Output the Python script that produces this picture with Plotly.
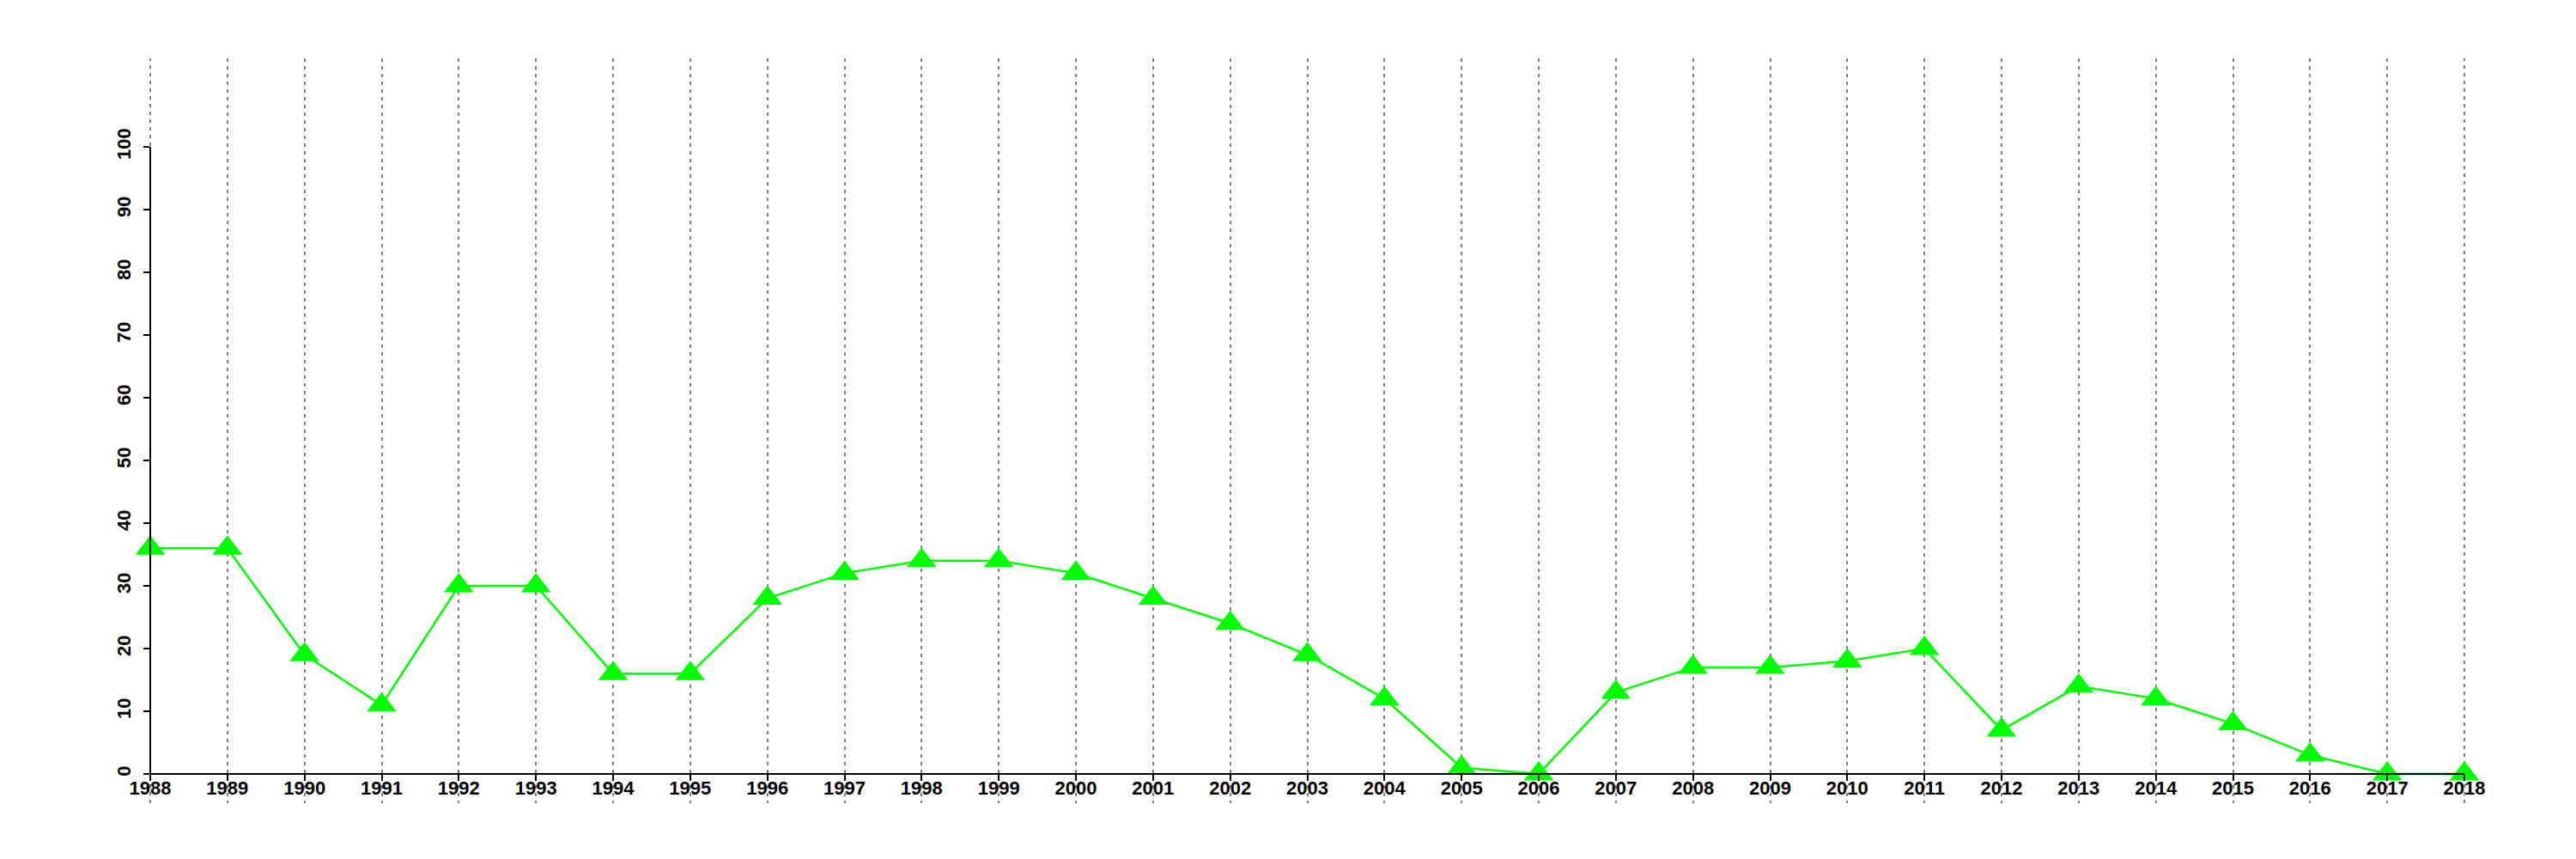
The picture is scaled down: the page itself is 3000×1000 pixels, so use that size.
import plotly.graph_objects as go

years = list(range(1988, 2019))
values = [36, 36, 19, 11, 30, 30, 16, 16, 28, 32, 34, 34, 32, 28, 24, 19, 12,
          1, 0, 13, 17, 17, 18, 20, 7, 14, 12, 8, 3, 0, 0]
y_ticks = list(range(0, 101, 10))
x_labels = [str(y) for y in years]

Y_MIN, Y_MAX = -4.66, 114.11
FONT = dict(family="Liberation Sans, Arial, sans-serif", size=22, color="black",
            weight="bold")
GRID = dict(color="#808080", width=2, dash="4px,5px")

fig = go.Figure()
fig.add_trace(go.Scatter(
    x=years, y=values, mode="lines+markers",
    line=dict(color="#00ff00", width=2.5),
    marker=dict(symbol="triangle-up", size=30, color="#00ff00", line=dict(width=0)),
    cliponaxis=False, showlegend=False, hoverinfo="skip",
))

# grid lines on the two range edges (the axis does not draw them)
for edge in (0, 1):
    fig.add_shape(type="line", xref="x domain", yref="paper", x0=edge, x1=edge,
                  y0=0, y1=1, line=GRID, layer="below")

# y-axis line from first to last tick, at the left edge of the x range
fig.add_shape(type="line", xref="x domain", yref="y", x0=0, x1=0,
              y0=y_ticks[0], y1=y_ticks[-1], line=dict(color="black", width=2),
              layer="above")

fig.update_layout(
    width=3000, height=1000,
    margin=dict(l=167, r=138, t=60, b=73),
    paper_bgcolor="white", plot_bgcolor="white",
    font=FONT,
    xaxis=dict(
        range=[years[0], years[-1]],
        tickmode="array", tickvals=years, ticktext=x_labels,
        ticks="outside", ticklen=7, tickwidth=2, tickcolor="black",
        showline=True, linecolor="black", linewidth=2,
        showgrid=True, gridcolor=GRID["color"], gridwidth=GRID["width"],
        griddash=GRID["dash"],
        zeroline=False,
        anchor="free", position=(0 - Y_MIN) / (Y_MAX - Y_MIN),
        tickfont=FONT, layer="above traces", ticklabelstandoff=-10,
    ),
    yaxis=dict(
        range=[Y_MIN, Y_MAX],
        tickmode="array", tickvals=y_ticks, ticktext=[str(v) for v in y_ticks],
        ticks="outside", ticklen=7, tickwidth=2, tickcolor="black",
        showline=False, showgrid=False, zeroline=False,
        tickangle=-90, tickfont=FONT, ticklabelstandoff=6,
    ),
)

fig.write_html("out.html")
